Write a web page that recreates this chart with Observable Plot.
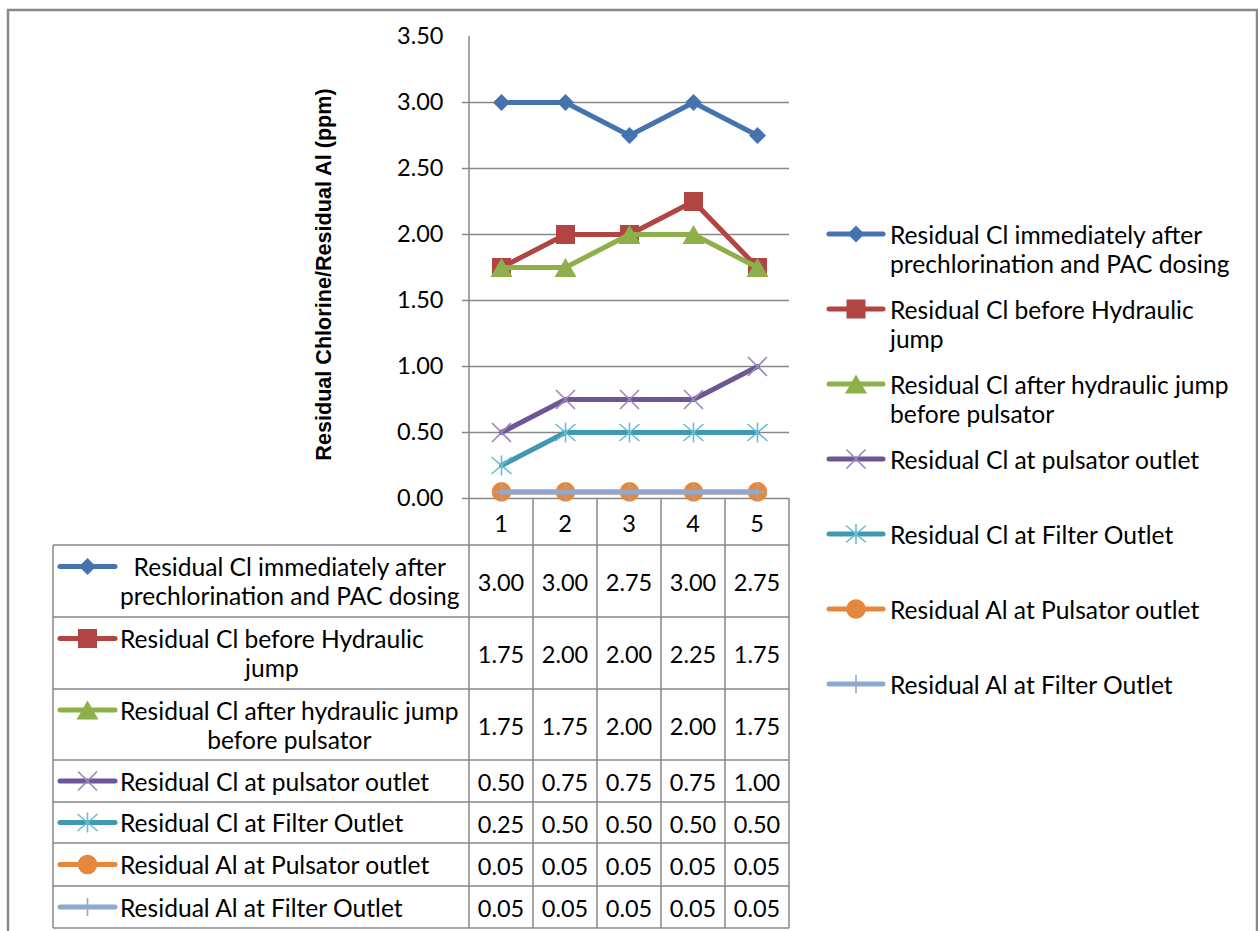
<!DOCTYPE html>
<html>
<head>
<meta charset="utf-8">
<script src="https://cdn.jsdelivr.net/npm/d3@7"></script>
<script src="https://cdn.jsdelivr.net/npm/@observablehq/plot@0.6"></script>
<style>
  html, body { margin: 0; padding: 0; background: #fff; }
  #chart { position: relative; width: 1258px; height: 931px; overflow: hidden; }
</style>
</head>
<body>
<div id="chart"></div>
<script>
// ---- data -------------------------------------------------------------
const samples = [1, 2, 3, 4, 5];

const clImmediate  = [3.00, 3.00, 2.75, 3.00, 2.75];
const clBeforeJump = [1.75, 2.00, 2.00, 2.25, 1.75];
const clAfterJump  = [1.75, 1.75, 2.00, 2.00, 1.75];
const clPulsator   = [0.50, 0.75, 0.75, 0.75, 1.00];
const clFilter     = [0.25, 0.50, 0.50, 0.50, 0.50];
const alPulsator   = [0.05, 0.05, 0.05, 0.05, 0.05];
const alFilter     = [0.05, 0.05, 0.05, 0.05, 0.05];

// series names, wrapped the way they are printed
const seriesLines = [
  ["Residual Cl immediately after", "prechlorination and PAC dosing"],
  ["Residual Cl before Hydraulic", "jump"],
  ["Residual Cl after hydraulic jump", "before pulsator"],
  ["Residual Cl at pulsator outlet"],
  ["Residual Cl at Filter Outlet"],
  ["Residual Al at Pulsator outlet"],
  ["Residual Al at Filter Outlet"]
];

const yTicks = [0, 0.5, 1.0, 1.5, 2.0, 2.5, 3.0, 3.5];
const yTitle = "Residual Chlorine/Residual Al (ppm)";

const seriesValues = [clImmediate, clBeforeJump, clAfterJump, clPulsator, clFilter, alPulsator, alFilter];

// ---- marker shapes (r = half extent) --------------------------------
const symbolOf = fn => ({ draw(ctx, size) { fn(ctx, Math.sqrt(size / Math.PI)); } });
const diamond = symbolOf((c, r) => { c.moveTo(0, -r); c.lineTo(r, 0); c.lineTo(0, r); c.lineTo(-r, 0); c.closePath(); });
const square = symbolOf((c, r) => { c.rect(-r, -r, 2 * r, 2 * r); });
const triangle = symbolOf((c, r) => { c.moveTo(0, -0.95 * r); c.lineTo(1.1 * r, 0.95 * r); c.lineTo(-1.1 * r, 0.95 * r); c.closePath(); });
const xMark = symbolOf((c, r) => { c.moveTo(-r, -r); c.lineTo(r, r); c.moveTo(r, -r); c.lineTo(-r, r); });
const starMark = symbolOf((c, r) => { c.moveTo(-r, -0.85 * r); c.lineTo(r, 0.85 * r); c.moveTo(r, -0.85 * r); c.lineTo(-r, 0.85 * r); c.moveTo(0, -r); c.lineTo(0, r); });
const circle = symbolOf((c, r) => { c.moveTo(r, 0); c.arc(0, 0, r, 0, 2 * Math.PI); });
const plusMark = symbolOf((c, r) => { c.moveTo(-r, 0); c.lineTo(r, 0); c.moveTo(0, -r); c.lineTo(0, r); });

const seriesStyle = [
  { color: "#4573AE", symbol: diamond,  r: 8.5, filled: true },
  { color: "#B04543", symbol: square,   r: 9.5, filled: true },
  { color: "#8DB04B", symbol: triangle, r: 10,  filled: true },
  { color: "#6E5696", symbol: xMark,    r: 9.5, filled: false, markColor: "#9886BD" },
  { color: "#4298B0", symbol: starMark, r: 10,  filled: false, markColor: "#64BCD3" },
  { color: "#E5883E", symbol: circle,   r: 9.8, filled: true },
  { color: "#8EA8D0", symbol: plusMark, r: 9,   filled: false, markColor: "#8EA8D0" }
];

// ---- layout -----------------------------------------------------------
const W = 1258, H = 931;
const plotLeft = 469, plotRight = 789, plotTop = 36, plotBottom = 498;
const FONT = "Lato, 'Open Sans', sans-serif";
const LABEL_SIZE = 24.6;
const NUM_SIZE = 23.5;
const GRID = "#878787";
const fmt = d3.format(".2f");

const seriesMarks = seriesValues.flatMap((vals, s) => {
  const st = seriesStyle[s];
  const data = vals.map((v, i) => ({ sample: samples[i], value: v }));
  return [
    Plot.line(data, { x: "sample", y: "value", stroke: st.color, strokeWidth: 5, strokeLinejoin: "round", strokeLinecap: "round" }),
    Plot.dot(data, {
      x: "sample", y: "value", symbol: st.symbol, r: st.r,
      fill: st.filled ? st.color : "none",
      stroke: st.filled ? "none" : st.markColor,
      strokeWidth: 1.6
    })
  ];
});

const plot = Plot.plot({
  width: W,
  height: H,
  marginLeft: plotLeft,
  marginRight: W - plotRight,
  marginTop: plotTop,
  marginBottom: H - plotBottom,
  style: { background: "#fff", color: "#000", fontFamily: FONT, overflow: "visible" },
  x: { type: "point", domain: samples, padding: 0.5, axis: null },
  y: { domain: [0, 3.5], label: null },
  marks: [
    Plot.ruleY(yTicks.filter(t => t < 3.5), { stroke: GRID, strokeWidth: 1.5, insetLeft: -7 }),
    Plot.axisY(yTicks, { tickFormat: fmt, tickSize: 0, tickPadding: 26, fontSize: NUM_SIZE, fontFamily: FONT, fill: "#000", label: null }),
    Plot.text([yTitle], {
      frameAnchor: "left", textAnchor: "middle", dx: -145, dy: 7, rotate: -90,
      fontSize: 21.6, fontWeight: "bold", fontFamily: "'Liberation Sans', Arial, sans-serif", fill: "#000"
    }),
    ...seriesMarks
  ]
});

document.getElementById("chart").appendChild(plot);

// ---- data table, legend and border ---------------------------------
const svg = d3.select(plot);
const xs = plot.scale("x");
const step = (xs.range[1] - xs.range[0]) / (samples.length - 1 + 2 * xs.padding);
const colEdges = [xs.range[0], ...samples.map(v => xs.apply(v) + step / 2)];

const tableLeft = 53;
const headerBottom = 545;
const rowHeights = [72, 72, 71, 42, 41, 43, 42];
const rowTops = [];
{ let y = headerBottom; for (const h of rowHeights) { rowTops.push(y); y += h; } rowTops.push(y); }
const tableBottom = rowTops[rowTops.length - 1];

const gTable = svg.append("g").attr("stroke", GRID).attr("stroke-width", 1.5).attr("fill", "none");
// y axis line running down into the table
gTable.append("line").attr("x1", colEdges[0]).attr("x2", colEdges[0]).attr("y1", plotTop).attr("y2", tableBottom);
colEdges.slice(1).forEach(x => gTable.append("line").attr("x1", x).attr("x2", x).attr("y1", plotBottom).attr("y2", tableBottom));
gTable.append("line").attr("x1", tableLeft).attr("x2", tableLeft).attr("y1", headerBottom).attr("y2", tableBottom);
rowTops.forEach(y => gTable.append("line").attr("x1", tableLeft).attr("x2", colEdges[colEdges.length - 1]).attr("y1", y).attr("y2", y));

const gText = svg.append("g").attr("font-family", FONT).attr("font-size", LABEL_SIZE).attr("fill", "#000");
// column header: sample numbers
samples.forEach(v => gText.append("text").attr("x", xs.apply(v)).attr("y", (plotBottom + headerBottom) / 2 + 1)
  .attr("font-size", NUM_SIZE).attr("text-anchor", "middle").attr("dominant-baseline", "central").text(v));

function drawKey(g, s, x0, x1, y) {
  const st = seriesStyle[s];
  g.append("line").attr("x1", x0).attr("x2", x1).attr("y1", y).attr("y2", y)
    .attr("stroke", st.color).attr("stroke-width", 5).attr("stroke-linecap", "round");
  g.append("path").attr("transform", `translate(${(x0 + x1) / 2},${y})`)
    .attr("d", d3.symbol(st.symbol, Math.PI * st.r * st.r)())
    .attr("fill", st.filled ? st.color : "none")
    .attr("stroke", st.filled ? "none" : st.markColor)
    .attr("stroke-width", 1.6);
}

const gKeys = svg.append("g");
seriesLines.forEach((lines, s) => {
  const top = rowTops[s], bottom = rowTops[s + 1], mid = (top + bottom) / 2;
  const ys = lines.length === 2 ? [mid - 14.5, mid + 14.5] : [mid];
  drawKey(gKeys, s, 60, 115, ys[0]);
  // row label: lines centred on each other, block starting after the key
  const texts = lines.map((t, k) => gText.append("text").attr("x", 120).attr("y", ys[k])
    .attr("text-anchor", "start").attr("dominant-baseline", "central").text(t));
  const widths = texts.map(t => t.node().getComputedTextLength());
  const maxW = Math.max(...widths);
  texts.forEach(t => t.attr("x", 120 + maxW / 2).attr("text-anchor", "middle"));
  // values
  seriesValues[s].forEach((v, i) => gText.append("text").attr("x", xs.apply(samples[i])).attr("y", mid + 1)
    .attr("font-size", NUM_SIZE).attr("text-anchor", "middle").attr("dominant-baseline", "central").text(fmt(v)));
});

// legend
const gLegend = svg.append("g").attr("font-family", FONT).attr("font-size", LABEL_SIZE).attr("fill", "#000");
seriesLines.forEach((lines, s) => {
  const y = 234 + s * 75;
  drawKey(gLegend, s, 829, 883, y);
  lines.forEach((t, k) => gLegend.append("text").attr("x", 890).attr("y", y + k * 29.5)
    .attr("text-anchor", "start").attr("dominant-baseline", "central").text(t));
});

// outer chart border
svg.append("rect").attr("x", 8).attr("y", 10).attr("width", 1249).attr("height", 960)
  .attr("fill", "none").attr("stroke", "#888").attr("stroke-width", 2.5);
</script>
</body>
</html>
